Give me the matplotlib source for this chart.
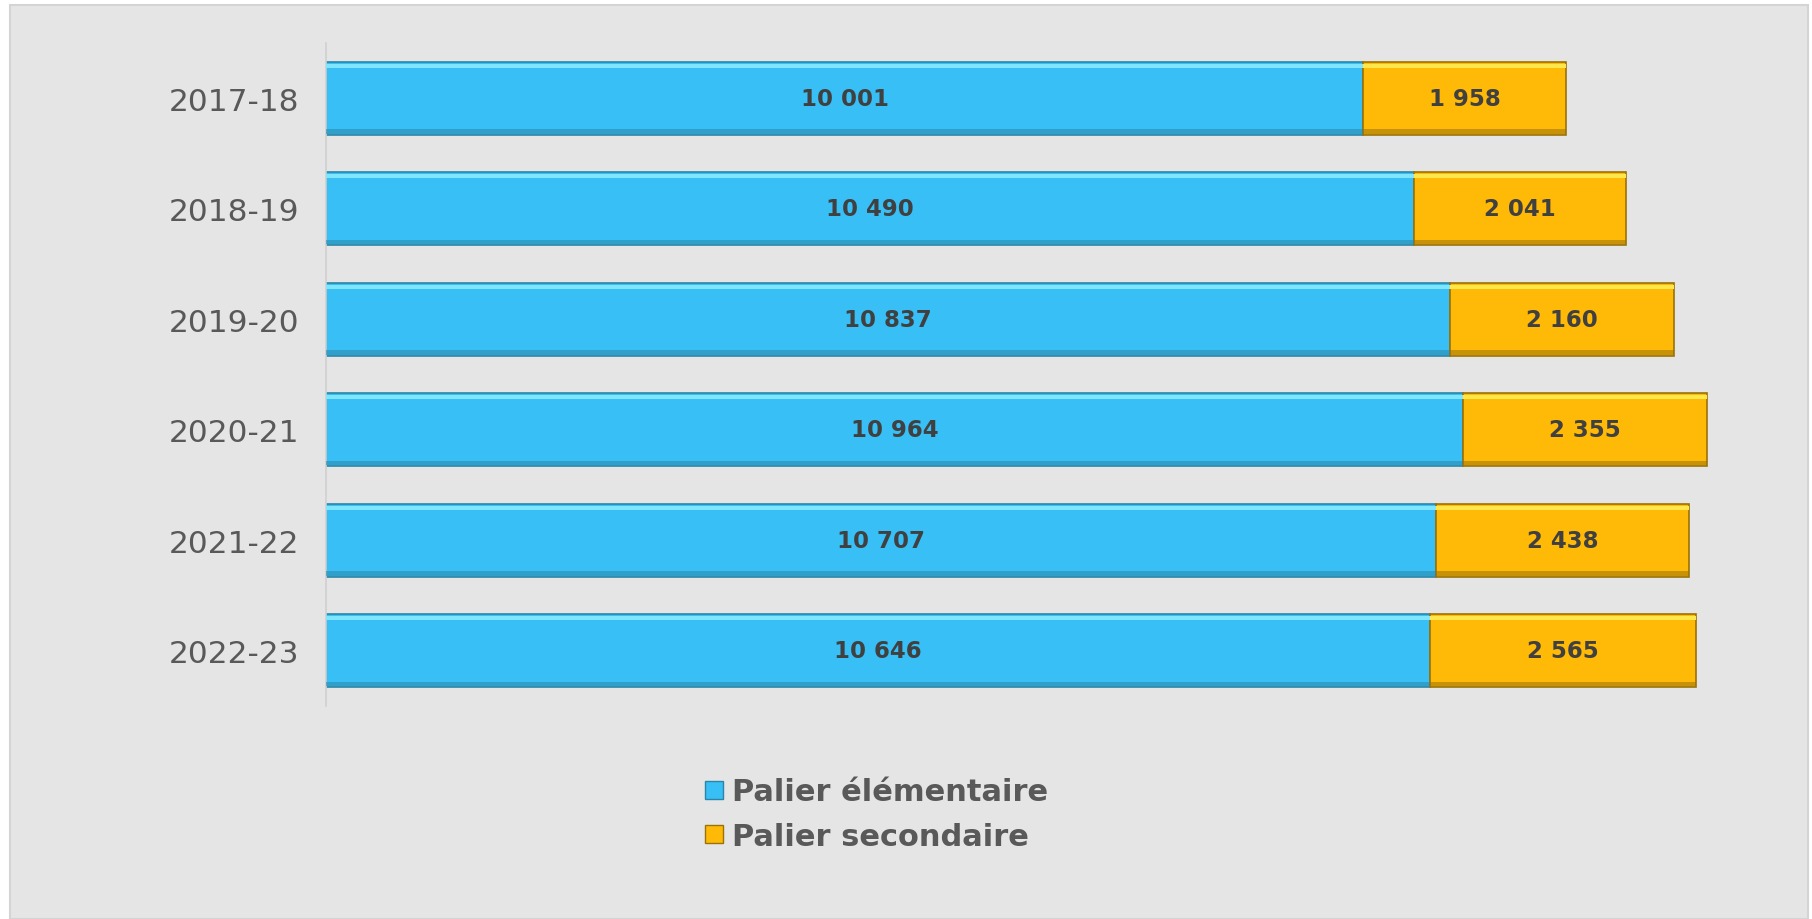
import matplotlib
matplotlib.use("Agg")
import matplotlib.pyplot as plt
from matplotlib.patches import Rectangle
from matplotlib.lines import Line2D

years = ["2017-18", "2018-19", "2019-20", "2020-21", "2021-22", "2022-23"]
elementaire = [10001, 10490, 10837, 10964, 10707, 10646]
secondaire = [1958, 2041, 2160, 2355, 2438, 2565]
series_names = ["Palier élémentaire", "Palier secondaire"]

def fmt(v):
    return f"{v:,}".replace(",", " ")

W, H = 1812, 920
fig = plt.figure(figsize=(W / 100, H / 100), dpi=100)
fig.patch.set_facecolor("white")
bg = Rectangle((10 / W, 0), (1808 - 10) / W, 1 - 6 / H,
               transform=fig.transFigure, facecolor="#E5E5E5",
               edgecolor="#D4D4D4", linewidth=1.5, zorder=-10)
fig.add_artist(bg)

ax = fig.add_axes([326 / W, 1 - 707 / H, (1778 - 326) / W, (707 - 44) / H])
ax.set_zorder(1)
ax.set_facecolor("none")
ax.set_xlim(0, 14000)
ax.set_ylim(5.5, -0.5)

pos = list(range(len(years)))
h = 0.66
styles = [
    dict(face="#38BFF5", light="#80E6FF", dark="#2A86A8"),
    dict(face="#FFB907", light="#FFE64A", dark="#9A7208"),
]
lefts = [0] * len(years)
for s, vals in enumerate([elementaire, secondaire]):
    st = styles[s]
    ax.barh(pos, vals, left=lefts, height=h, color=st["face"],
            edgecolor=st["dark"], linewidth=1.2, zorder=2)
    # top highlight strip
    ax.barh([p - h / 2 + 0.035 for p in pos], vals, left=lefts, height=0.035,
            color=st["light"], linewidth=0, zorder=3)
    # bottom shade strip
    ax.barh([p + h / 2 - 0.03 for p in pos], vals, left=lefts, height=0.04,
            color=st["dark"], alpha=0.55, linewidth=0, zorder=3)
    for p, v, l in zip(pos, vals, lefts):
        ax.text(l + v / 2, p, fmt(v), ha="center", va="center",
                fontsize=16.5, fontweight="bold", color="#404040", zorder=4)
    lefts = [l + v for l, v in zip(lefts, vals)]

ax.set_yticks(pos)
ax.set_yticklabels(years, fontsize=22.5, color="#595959")
ax.tick_params(axis="y", length=0, pad=19)
ax.set_xticks([])
for sp in ["top", "right", "bottom"]:
    ax.spines[sp].set_visible(False)
ax.spines["left"].set_color("#D0D0D0")
ax.spines["left"].set_linewidth(1.2)

handles = [Line2D([], [], marker="s", linestyle="none", markersize=13,
                  markerfacecolor=st["face"], markeredgecolor=st["dark"])
           for st in styles]
leg = fig.legend(handles, series_names, loc="upper left",
                 bbox_to_anchor=(677 / W, 1 - 751 / H), frameon=False,
                 handlelength=0.6, handletextpad=0.3, labelspacing=0.5,
                 prop=dict(size=22, weight="bold"))
for t in leg.get_texts():
    t.set_color("#595959")

fig.savefig("out.png", dpi=100, facecolor="white")
